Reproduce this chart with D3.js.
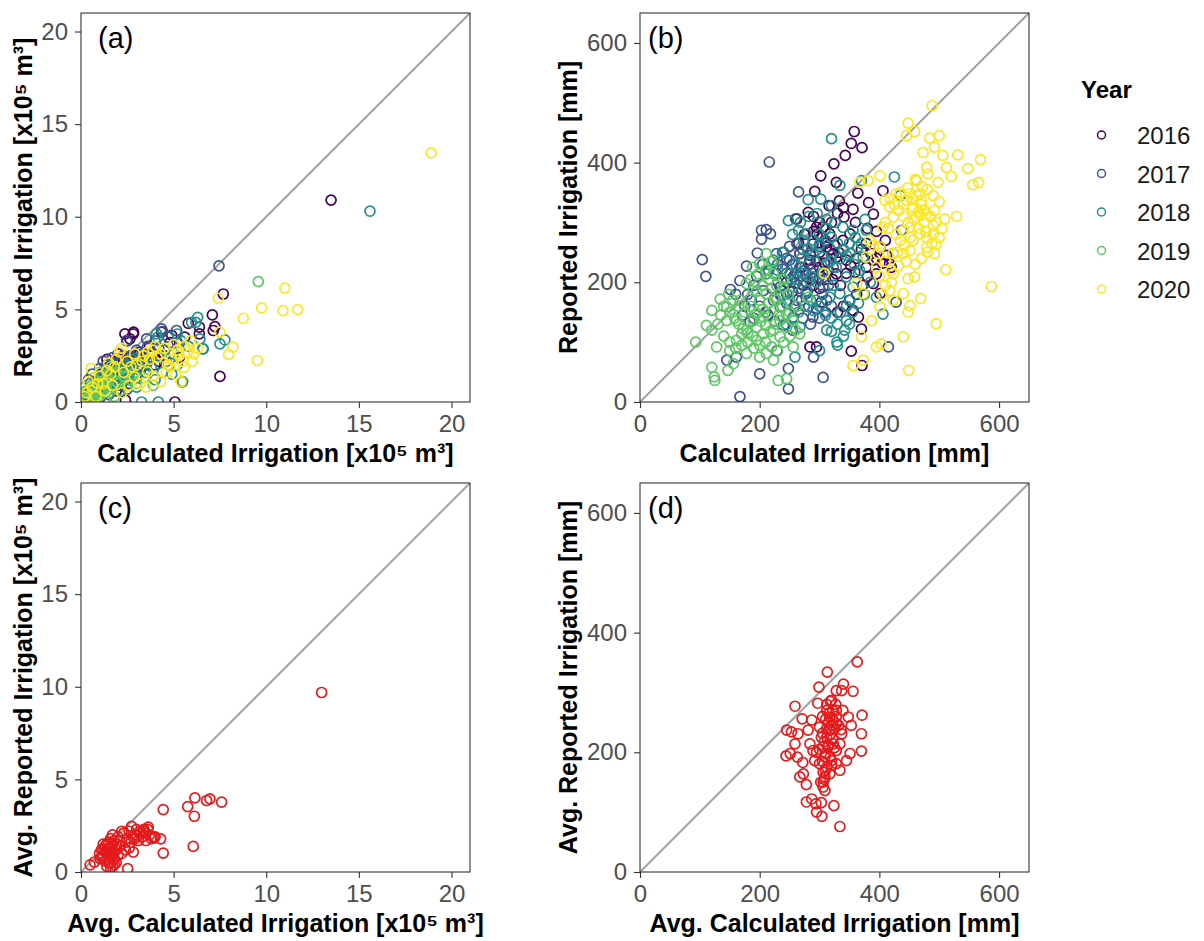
<!DOCTYPE html>
<html>
<head>
<meta charset="utf-8">
<script src="https://cdn.jsdelivr.net/npm/d3@7"></script>
<style>
  html, body { margin: 0; padding: 0; background: #ffffff; }
  svg { display: block; font-family: "Liberation Sans", Arial, sans-serif; }
</style>
</head>
<body>
<svg id="chart" width="1204" height="941"></svg>
<script>
// ---------------- DATA ----------------
const years = ["2016", "2017", "2018", "2019", "2020"];
const yearColors = ["#440154", "#3b528b", "#21908c", "#5dc863", "#fde725"];

const volumeTicks = [0, 5, 10, 15, 20];
const depthTicks = [0, 200, 400, 600];

// Panel (a): calculated vs reported volume [x10^5 m3], per year
const volume2016 = [[13.5,10.9],[7.68,5.83],[7.09,4.7],[7.23,4.07],[7.14,3.86],[6.39,4.04],[6.39,3.68],[5.79,4.25],[7.5,1.38],[5.07,0],[4.35,3.77],[2.37,3.68],[2.82,3.68],[2.64,3.41],[2.5,3.3],[2.84,3.77],[2.0,2.6],[1.8,2.2],[1.5,1.9],[1.3,1.6],[1.7,1.5],[2.2,1.9],[2.6,2.4],[3.2,2.7],[3.6,2.2],[4.0,2.0],[4.5,2.5],[3.0,1.5],[2.4,1.2],[1.0,0.8],[0.6,0.5],[1.4,1.1],[2.1,2.3],[3.7,3.0],[4.8,3.2],[5.3,2.4],[2.4,0.1],[1.9,0.6],[0.9,1.2],[3.3,1.9],
  [1.6,1.4],[1.8,1.7],[2.0,2.0],[2.3,2.1],[2.5,1.8],[2.8,2.2],[3.0,2.5],[1.2,1.0],[0.8,0.7],[0.5,0.3],[1.1,1.5],[1.4,2.3],[2.6,1.0],[3.4,2.4],[3.9,2.6],[4.2,2.2],[5.6,3.5],[4.9,3.6],[0.3,0.4],[1.0,0.2]];
const volume2017 = [[7.45,7.35],[4.35,3.95],[5.16,3.86],[2.46,3.32],[3.54,3.41],[4.4,3.8],[5.2,3.2],[3.0,2.8],[2.3,2.5],[1.9,2.1],[1.5,1.7],[1.2,1.4],[0.9,1.1],[0.6,0.9],[0.3,0.6],[0.5,1.0],[1.1,0.6],[1.6,1.0],[2.0,1.3],[2.6,1.7],[3.1,2.2],[3.8,2.6],[4.2,2.9],[1.4,2.0],[2.2,1.9],[1.0,1.8],[0.2,0.3],[0.8,0.4],[1.7,2.4],[2.8,2.1],[3.5,2.0],[1.3,0.9],[0.4,1.2],[2.5,0.7],
  [1.0,0.7],[1.3,1.2],[1.6,1.3],[1.8,1.8],[2.1,1.6],[2.4,2.2],[2.7,2.5],[3.3,2.6],[3.6,3.0],[4.0,3.3],[4.7,3.5],[0.7,0.5],[0.4,0.4],[0.1,0.2],[1.5,0.4],[2.0,0.9],[2.9,1.4],[3.2,1.7],[0.6,1.5],[1.2,2.2]];
const volume2018 = [[15.6,10.3],[6.3,4.57],[5.97,4.3],[6.42,3.41],[6.6,2.87],[7.5,3.14],[7.77,3.35],[4.17,0],[3.27,0],[5.43,1.08],[4.08,3.68],[4.14,3.49],[5.2,3.67],[6.2,4.3],[5.4,3.3],[5.49,1.1],[6.57,2.87],[3.5,1.6],[3.0,1.3],[2.6,1.5],[2.2,1.0],[1.8,1.2],[1.4,0.8],[1.0,0.6],[0.7,0.3],[0.3,0.2],[2.0,1.7],[2.7,2.3],[3.3,2.5],[4.6,2.2],[4.0,1.2],[1.5,1.5],[2.4,2.0],[0.5,0.8],[1.2,1.1],[3.8,1.9],[4.9,1.5],
  [1.1,0.9],[1.6,1.1],[1.9,1.4],[2.3,1.7],[2.5,1.2],[2.8,1.8],[3.1,2.0],[3.6,2.2],[4.2,2.5],[4.5,2.8],[5.0,2.6],[5.8,3.0],[0.8,0.5],[0.4,0.6],[0.2,0.1],[1.3,1.6],[1.7,2.0],[3.0,0.8],[4.4,1.6],[5.2,2.0]];
const volume2019 = [[9.57,6.5],[3.9,0.9],[0.3,0.2],[0.5,0.4],[0.8,0.6],[0.6,0.9],[1.0,0.3],[1.2,0.7],[1.5,0.5],[1.7,0.9],[0.2,0.5],[0.4,0.1],[1.1,1.1],[1.4,1.3],[2.0,1.0],[2.3,1.4],[0.9,0.2],[1.8,0.3],[2.5,0.9],[3.0,1.0],[3.4,1.3],[0.1,0.1],[0.7,1.3],[1.9,1.6],[2.7,1.2],[1.3,0.1],
  [0.6,0.2],[0.9,0.8],[1.1,0.5],[1.3,0.9],[1.6,0.7],[1.9,1.1],[2.1,0.6],[0.4,0.7],[0.2,0.8],[1.0,1.6],[1.5,1.1],[2.2,1.8],[2.8,1.5],[0.7,0.1],[1.6,1.9]];
const volume2020 = [[18.9,13.45],[11.0,6.15],[9.75,5.08],[10.9,4.93],[11.7,4.99],[8.76,4.52],[7.41,5.6],[8.2,2.96],[7.97,2.57],[9.52,2.24],[7.5,3.77],[0.54,1.81],[3.4,2.5],[4.3,2.6],[5.2,2.8],[5.74,2.7],[5.57,1.88],[3.6,1.63],[4.3,1.1],[5.4,1.1],[4.68,2.0],[2.07,2.7],[1.8,1.9],[2.88,1.34],[2.5,2.2],[3.0,2.0],[3.9,2.8],[4.9,2.3],[5.9,3.3],[6.1,2.6],[4.6,1.6],[3.2,1.0],[1.3,0.6],[0.8,0.3],[0.3,0.5],[2.2,0.5],[1.0,1.4],[4.0,3.0],[5.0,3.1],[6.0,2.2],[2.6,0.9],[3.7,2.3],[1.5,2.1],
  [0.2,0.3],[0.6,0.8],[0.9,1.0],[1.2,1.0],[1.6,1.5],[1.9,2.3],[2.3,1.6],[2.7,1.9],[3.3,2.2],[3.6,2.7],[4.1,2.4],[4.5,2.9],[4.8,1.9],[5.3,2.5],[5.6,3.0],[5.1,1.5],[3.9,1.4],[2.9,2.6],[2.2,2.9],[1.4,1.7],[0.4,1.1],[1.7,0.9],[3.5,0.8],[6.3,2.9],[5.5,2.2]];

// Panel (b): calculated vs reported depth [mm], per year
const depth2016 = [[358,452],[353,432],[371,425],[343,412],[324,398],[302,378],[328,367],[292,352],[364,349],[406,353],[281,317],[316,328],[333,336],[382,333],[262,306],[295,292],[306,292],[341,309],[356,322],[390,314],[401,259],[390,237],[417,231],[420,225],[378,225],[359,217],[395,214],[289,206],[273,195],[323,248],[328,242],[300,225],[284,237],[312,259],[339,270],[351,281],[390,198],[401,181],[303,167],[356,153],[365,142],[370,122],[284,92],[295,92],[353,85],[371,61],[267,248],[289,264],[317,281],[328,214],[256,209],[345,237],
  [290,285],[296,280],[305,275],[310,265],[318,255],[325,262],[332,250],[300,250],[285,245],[295,235],[308,232],[315,220],[322,205],[335,195],[345,215],[352,228],[362,240],[370,255],[378,265],[386,248],[395,240],[405,232],[412,245],[380,210],[372,195],[362,180],[350,170],[340,160],[330,150],[270,225],[262,215],[278,200],[290,195],[300,190],[310,205],[245,200],[255,185],[320,300],[330,315],[340,325],[360,300],[290,310],[275,280],[265,265],[300,300],[380,290],[395,285],[410,270]];
const depth2017 = [[216,401],[104,238],[110,210],[151,188],[167,203],[178,227],[196,249],[203,272],[211,288],[218,281],[203,287],[265,351],[260,306],[186,170],[171,145],[184,134],[214,145],[229,86],[145,70],[161,75],[200,47],[248,56],[248,22],[167,9],[306,41],[290,75],[415,92],[428,167],[423,248],[437,287],[245,181],[256,209],[267,225],[278,214],[228,214],[234,192],[250,237],[289,225],[262,170],[278,181],[306,192],[289,142],[256,142],[223,170],[206,186],[312,170],[323,225],[300,209],[228,248],[267,248],
  [230,230],[238,222],[245,215],[252,205],[260,198],[268,210],[275,220],[282,230],[290,215],[298,205],[240,250],[250,260],[262,265],[272,255],[285,250],[230,200],[220,190],[235,178],[245,165],[258,160],[270,170],[282,160],[295,155],[305,180],[315,195],[215,220],[205,230],[195,210],[190,195],[180,180],[200,160],[210,150],[225,135],[240,128],[255,120],[272,140],[285,130],[300,140],[310,150],[320,160],[190,140],[175,160],[160,180],[265,190],[280,185],[245,240],[255,230],[300,260],[310,270],[320,245]];
const depth2018 = [[320,440],[425,376],[435,345],[370,370],[334,362],[281,338],[302,339],[320,328],[248,303],[265,287],[278,281],[326,300],[339,292],[356,287],[376,305],[378,287],[364,259],[351,248],[300,264],[289,248],[273,270],[312,231],[328,225],[345,209],[256,192],[278,186],[295,170],[317,175],[334,181],[351,170],[345,136],[342,120],[329,100],[330,95],[312,120],[300,86],[267,125],[259,75],[289,153],[406,147],[250,214],[223,237],[211,214],[306,242],[284,203],[323,195],[367,220],[373,242],[356,192],[234,159],
  [260,230],[270,240],[280,255],[290,270],[300,280],[310,290],[320,275],[330,265],[340,255],[350,265],[360,275],[370,265],[262,205],[272,215],[285,210],[295,200],[305,215],[318,235],[335,240],[345,245],[358,230],[365,215],[300,160],[310,145],[320,140],[335,150],[345,160],[355,150],[365,165],[375,180],[285,170],[275,160],[265,150],[255,140],[245,130],[240,180],[250,170],[230,220],[238,250],[255,280],[268,300],[282,310],[296,315],[312,305],[340,110],[350,130],[330,130],[320,118],[385,200],[395,175]];
const depth2019 = [[93,100],[111,128],[120,153],[134,172],[145,159],[120,120],[128,92],[120,58],[124,42],[125,36],[147,53],[150,86],[161,103],[170,114],[184,153],[189,186],[198,214],[200,231],[211,248],[223,214],[200,170],[206,142],[223,120],[234,109],[211,81],[223,70],[200,75],[231,36],[245,39],[256,92],[245,125],[161,136],[178,120],[145,136],[167,170],[178,198],[211,181],[228,170],[245,147],[189,136],[223,153],[256,136],[239,192],[281,175],[267,114],[195,103],[178,81],[156,64],[206,114],[234,136],
  [150,150],[158,140],[165,130],[172,122],[180,115],[188,110],[195,125],[202,135],[210,128],[218,118],[226,130],[232,145],[238,160],[225,175],[215,165],[205,155],[195,148],[185,160],[175,150],[165,160],[155,170],[148,180],[140,160],[135,145],[130,130],[140,110],[150,100],[160,90],[170,95],[180,100],[190,90],[200,95],[210,100],[220,92],[230,85],[240,100],[250,110],[260,120],[215,205],[205,195],[195,185],[185,205],[210,220],[220,235],[228,195],[188,225],[240,205],[248,180],[250,150],[262,160]];
const depth2020 = [[488,495],[448,466],[459,452],[445,445],[484,441],[500,445],[492,426],[473,417],[506,412],[531,413],[569,405],[548,390],[566,367],[556,363],[520,377],[512,392],[479,392],[498,367],[481,381],[462,370],[401,378],[381,370],[367,367],[451,348],[470,337],[456,326],[479,314],[492,320],[509,306],[529,310],[417,326],[423,309],[406,292],[440,287],[451,292],[468,281],[456,270],[479,275],[490,281],[495,264],[492,248],[479,259],[440,248],[451,253],[423,248],[401,259],[384,270],[378,242],[395,225],[423,214],[448,206],[459,209],[511,221],[587,193],[469,173],[451,161],[448,150],[440,181],[417,186],[401,159],[387,136],[370,109],[395,92],[403,97],[440,109],[495,131],[449,53],[356,61],[373,70],[308,215],[362,198],[373,181],[423,170],[468,348],[445,337],[462,309],[428,348],[409,337],
  [455,340],[462,345],[470,330],[475,320],[465,318],[458,305],[448,300],[440,310],[432,320],[425,330],[418,340],[410,300],[415,290],[428,280],[435,270],[442,262],[452,275],[465,290],[475,300],[485,310],[495,300],[505,290],[500,275],[488,265],[480,250],[470,240],[460,230],[445,235],[432,228],[420,220],[410,235],[398,248],[390,262],[480,355],[490,345],[500,335],[472,360],[460,372],[447,358],[435,350],[440,330],[455,322],[468,312],[478,285],[490,295],[430,250],[400,210],[410,195],[420,200],[405,180]];

// Panel (c): average volume per field [x10^5 m3]
const avgVolume = [[12.99,9.69],[7.59,3.77],[6.96,3.95],[6.78,3.86],[6.15,4.0],[6.12,3.01],[5.76,3.53],[6.06,1.38],[4.44,3.37],[4.44,1.02],[4.3,1.79],[3.94,1.83],[3.63,2.42],[3.36,2.24],[3.18,2.06],[2.82,1.88],[2.73,2.46],[2.52,0.18],[2.82,1.08],[0.49,0.39],[0.72,0.54],[1.03,0.72],[1.1,1.2],[1.2,0.9],[1.3,1.4],[1.4,1.1],[1.5,0.8],[1.5,1.6],[1.6,1.3],[1.7,1.0],[1.6,0.5],[1.7,0.3],[1.8,1.7],[1.8,0.7],[1.9,1.2],[2.0,1.9],[2.1,1.4],[2.2,1.0],[2.3,2.1],[2.4,1.6],[2.6,1.3],[2.9,2.0],[3.1,1.7],[3.3,1.9],[3.5,2.1],[3.5,1.7],[3.7,2.0],[3.0,2.3],[2.5,1.8],[1.3,0.6],[1.4,0.3],[1.9,0.5],[2.6,2.2],[3.4,2.3],[1.0,1.0],[1.2,1.5],[2.0,0.9],[1.7,2.0],[3.8,1.8],[4.0,1.9],
  [1.4,0.7],[1.5,1.3],[1.6,1.0],[1.6,1.8],[1.7,0.8],[1.7,1.5],[1.8,1.1],[1.5,0.5],[1.9,1.5],[1.3,1.1],[1.2,1.2],[1.4,1.5],[2.1,1.7],[2.2,2.2],[2.7,1.6],[2.9,1.8],[3.2,2.2],[3.6,2.3],[3.9,1.9],[1.1,0.8],[1.8,0.4],[1.6,0.2],[2.4,1.2]];

// Panel (d): average depth per field [mm]
const avgDepth = [[363,351],[313,334],[340,314],[299,309],[356,302],[328,303],[337,303],[259,277],[297,282],[320,287],[371,262],[370,231],[370,202],[348,259],[353,245],[245,237],[253,234],[264,231],[271,256],[287,254],[259,214],[244,194],[251,198],[263,192],[272,183],[273,164],[267,159],[278,146],[287,122],[278,117],[294,114],[303,116],[295,100],[304,93],[324,111],[334,76],[306,150],[306,167],[334,170],[345,186],[328,181],[351,198],[284,214],[289,203],[281,237],[300,242],[317,259],[312,225],[323,214],[328,248],[337,231],[317,237],[309,192],[300,181],[320,186],[328,270],[339,270],[312,270],[323,253],[314,209],[306,209],[328,203],[303,225],[334,214],[292,186],[309,159],[306,142],[309,136],[317,164],
  [305,260],[310,255],[315,250],[320,245],[325,240],[312,240],[318,230],[322,222],[308,218],[315,212],[325,208],[310,198],[318,192],[305,185],[312,175],[320,178],[316,265],[322,270],[328,260],[332,245],[336,238],[305,232],[300,205],[310,170],[308,155],[302,150],[318,285],[327,280],[312,280],[295,200]];

// ---------------- DRAWING ----------------
const svg = d3.select("#chart");
const FONT = '"Liberation Sans", Arial, sans-serif';
const RED = "#e41a1c";

const volumeByYear = [volume2016, volume2017, volume2018, volume2019, volume2020];
const depthByYear = [depth2016, depth2017, depth2018, depth2019, depth2020];

const panels = [
  { id: "a", left: 81, top: 13, size: 389, max: 21, ticks: volumeTicks,
    xTitle: "Calculated Irrigation [x10\u2075 m\u00b3]", yTitle: "Reported Irrigation [x10\u2075 m\u00b3]",
    series: volumeByYear.map((d, i) => ({ data: d, color: yearColors[i] })) },
  { id: "b", left: 640, top: 13, size: 389, max: 650, ticks: depthTicks,
    xTitle: "Calculated Irrigation [mm]", yTitle: "Reported Irrigation [mm]",
    series: depthByYear.map((d, i) => ({ data: d, color: yearColors[i] })) },
  { id: "c", left: 81, top: 483, size: 389, max: 21, ticks: volumeTicks,
    xTitle: "Avg. Calculated Irrigation [x10\u2075 m\u00b3]", yTitle: "Avg. Reported Irrigation [x10\u2075 m\u00b3]",
    series: [{ data: avgVolume, color: RED }] },
  { id: "d", left: 640, top: 483, size: 389, max: 650, ticks: depthTicks,
    xTitle: "Avg. Calculated Irrigation [mm]", yTitle: "Avg. Reported Irrigation [mm]",
    series: [{ data: avgDepth, color: RED }] }
];

const defs = svg.append("defs");

panels.forEach(p => {
  const x = d3.scaleLinear().domain([0, p.max]).range([p.left, p.left + p.size]);
  const y = d3.scaleLinear().domain([0, p.max]).range([p.top + p.size, p.top]);

  defs.append("clipPath").attr("id", "clip-" + p.id)
    .append("rect").attr("x", p.left).attr("y", p.top).attr("width", p.size).attr("height", p.size);

  const g = svg.append("g");

  // 1:1 line
  g.append("line")
    .attr("x1", x(0)).attr("y1", y(0)).attr("x2", x(p.max)).attr("y2", y(p.max))
    .attr("stroke", "#a3a3a3").attr("stroke-width", 2)
    .attr("clip-path", "url(#clip-" + p.id + ")");

  // points
  const pts = g.append("g").attr("clip-path", "url(#clip-" + p.id + ")");
  p.series.forEach(s => {
    pts.selectAll(null).data(s.data).enter().append("circle")
      .attr("cx", d => x(d[0])).attr("cy", d => y(d[1]))
      .attr("r", 5)
      .attr("fill", "none")
      .attr("stroke", s.color)
      .attr("stroke-width", 1.7);
  });

  // border
  g.append("rect").attr("x", p.left).attr("y", p.top).attr("width", p.size).attr("height", p.size)
    .attr("fill", "none").attr("stroke", "#333333").attr("stroke-width", 1.1);

  // axes
  const xAxis = d3.axisBottom(x).tickValues(p.ticks).tickSize(6).tickPadding(7).tickFormat(d3.format("d"));
  const yAxis = d3.axisLeft(y).tickValues(p.ticks).tickSize(6).tickPadding(7).tickFormat(d3.format("d"));

  const gx = g.append("g").attr("transform", `translate(0,${p.top + p.size})`).call(xAxis);
  const gy = g.append("g").attr("transform", `translate(${p.left},0)`).call(yAxis);
  [gx, gy].forEach(ax => {
    ax.select(".domain").remove();
    ax.selectAll(".tick line").attr("stroke", "#333333").attr("stroke-width", 1.1);
    ax.selectAll(".tick text").attr("fill", "#4d4d4d").style("font-size", "24px").style("font-family", FONT);
  });

  // axis titles
  g.append("text")
    .attr("x", p.left + p.size / 2).attr("y", p.top + p.size + 60)
    .attr("text-anchor", "middle")
    .style("font-family", FONT).style("font-size", "25px").style("font-weight", "bold")
    .attr("fill", "#000").text(p.xTitle);

  const tickW = p.max > 100 ? 55 : 41;
  g.append("text")
    .attr("transform", `translate(${p.left - tickW - 8},${p.top + p.size / 2}) rotate(-90)`)
    .attr("text-anchor", "middle")
    .style("font-family", FONT).style("font-size", "25px").style("font-weight", "bold")
    .attr("fill", "#000").text(p.yTitle);

  // panel label
  g.append("text")
    .attr("x", p.left + (p.max > 100 ? 8 : 17)).attr("y", p.top + 35)
    .style("font-family", FONT).style("font-size", "29px")
    .attr("fill", "#000").text("(" + p.id + ")");
});

// legend
const legend = svg.append("g");
legend.append("text").attr("x", 1081).attr("y", 98)
  .style("font-family", FONT).style("font-size", "24px").style("font-weight", "bold")
  .attr("fill", "#000").text("Year");

const legendItems = legend.selectAll("g.item").data(years).enter().append("g").attr("class", "item")
  .attr("transform", (d, i) => `translate(0,${135 + i * 38.5})`);
legendItems.append("circle").attr("cx", 1101.5).attr("cy", 0).attr("r", 4)
  .attr("fill", "none").attr("stroke", (d, i) => yearColors[i]).attr("stroke-width", 1.5);
legendItems.append("text").attr("x", 1137).attr("y", 9)
  .style("font-family", FONT).style("font-size", "24px")
  .attr("fill", "#1a1a1a").text(d => d);
</script>
</body>
</html>
